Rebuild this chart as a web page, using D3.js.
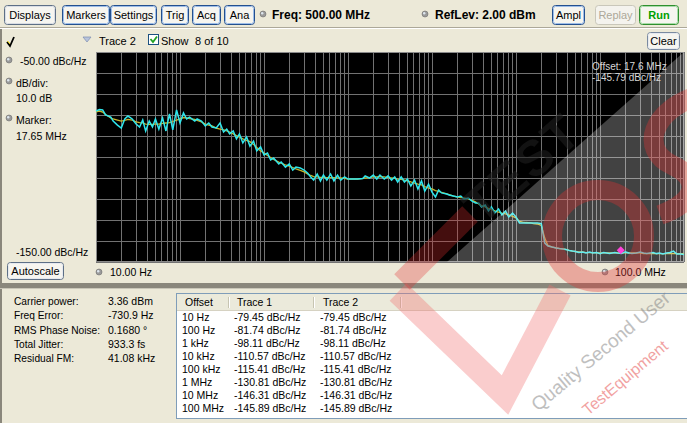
<!DOCTYPE html>
<html><head><meta charset="utf-8">
<script src="https://cdn.jsdelivr.net/npm/d3@7"></script>
<style>
body{margin:0;background:#ece9d8;overflow:hidden}
svg{display:block;font-family:"Liberation Sans",Arial,sans-serif}
</style></head><body>
<svg id="c" width="687" height="423"></svg>
<script>
// ---------- data ----------
const mantissas = [1.0,1.1,1.2,1.3,1.5,1.6,1.8,2.0,2.2,2.4,2.7,3.0,3.3,3.6,3.9,4.3,4.7,5.1,5.6,6.2,6.8,7.5,8.2,9.1];
const decades = [10,100,1e3,1e4,1e5,1e6,1e7];
const stopFreq = 1e8;
// Trace 1 (yellow, smoothed) dBc/Hz
const trace1 = [
-78.5,-78.1,-78.6,-79.8,-81.4,-81.9,-82.4,-82.9,-82.6,-82.1,-82.4,-83.3,-83.6,-83.8,-84.3,-84.5,-84.5,-84.3,-84.3,-84.0,-83.8,-83.6,-83.1,-82.4,
-81.8,-81.2,-81.4,-81.7,-82.1,-82.6,-83.3,-84.3,-84.8,-85.2,-86.2,-86.7,-87.1,-87.6,-88.1,-89.0,-89.8,-90.5,-91.4,-92.1,-92.7,-94.0,-95.5,-97.1,
-98.1,-99.3,-100.2,-101.2,-102.4,-102.9,-103.8,-104.3,-105.0,-105.7,-106.4,-107.1,-108.1,-108.8,-109.3,-109.5,-109.7,-109.7,-109.8,-109.8,-109.8,-109.9,-110.0,-110.2,
-110.5,-110.5,-110.5,-110.5,-110.2,-110.0,-109.8,-109.5,-109.5,-109.4,-109.5,-109.8,-110.0,-110.2,-110.5,-110.7,-111.0,-111.4,-111.9,-112.4,-112.9,-113.3,-114.1,-114.8,
-115.2,-116.0,-116.4,-116.9,-117.6,-117.9,-118.6,-119.0,-119.3,-119.5,-120.0,-120.7,-121.4,-122.4,-123.1,-123.8,-124.5,-125.0,-125.7,-126.2,-126.7,-127.1,-127.6,-128.3,
-129.0,-130.7,-131.0,-131.2,-131.4,-131.7,-131.9,-132.6,-138.6,-142.1,-142.9,-143.3,-143.6,-143.8,-144.0,-144.5,-144.8,-145.0,-145.2,-145.2,-145.5,-145.5,-145.5,-145.7,
-145.7,-145.7,-145.7,-145.7,-145.7,-145.7,-145.7,-145.7,-145.7,-145.7,-145.7,-145.7,-146.0,-146.0,-146.0,-146.0,-146.0,-146.0,-146.0,-146.0,-146.0,-146.0,-146.0,-146.0,
-146.0];
// Trace 2 (cyan, raw) dBc/Hz
const trace2 = [
-78.1,-77.4,-77.6,-80.0,-81.0,-82.9,-84.8,-86.2,-81.9,-80.5,-81.9,-84.3,-85.7,-82.4,-87.6,-82.9,-85.7,-81.9,-86.7,-81.4,-87.6,-79.5,-87.1,-77.6,
-83.8,-79.0,-81.9,-81.0,-82.9,-81.9,-82.9,-85.2,-83.8,-85.7,-86.2,-83.8,-88.1,-86.7,-89.0,-87.6,-91.4,-89.0,-93.3,-90.5,-94.8,-92.4,-97.1,-95.2,
-99.0,-98.1,-101.4,-100.5,-103.3,-102.4,-104.8,-103.3,-106.2,-104.8,-105.2,-106.2,-107.6,-109.5,-111.0,-108.1,-111.4,-108.6,-111.0,-108.1,-111.4,-108.6,-111.0,-109.5,
-110.5,-110.5,-110.5,-110.5,-110.2,-109.0,-110.0,-108.6,-110.5,-108.6,-110.5,-109.0,-111.0,-109.5,-111.9,-109.5,-111.9,-110.5,-113.8,-111.0,-115.2,-111.4,-116.2,-112.9,
-116.7,-119.0,-115.7,-117.1,-117.6,-118.1,-118.6,-119.0,-118.6,-120.0,-119.5,-121.0,-121.9,-121.9,-123.8,-122.9,-125.7,-123.8,-126.7,-124.8,-127.6,-125.7,-128.6,-126.7,
-128.6,-131.4,-131.4,-131.4,-131.4,-131.4,-131.4,-131.7,-141.0,-142.4,-142.9,-143.3,-143.6,-143.8,-144.0,-144.5,-144.8,-145.0,-145.5,-145.2,-145.7,-145.2,-145.7,-145.5,
-146.0,-145.5,-145.7,-146.0,-145.5,-145.7,-146.0,-145.2,-145.7,-146.0,-145.7,-145.2,-145.7,-146.0,-145.7,-145.5,-146.0,-145.7,-146.2,-145.7,-145.5,-144.8,-146.2,-146.2,
-146.4];
const refLevel = -50, bottomLevel = -150, dbPerDiv = 10;
const marker = {freq: 17.65e6, value: -145.79};
const statLabels = ["Carrier power:","Freq Error:","RMS Phase Noise:","Total Jitter:","Residual FM:"];
const statValues = ["3.36 dBm","-730.9 Hz","0.1680 \u00b0","933.3 fs","41.08 kHz"];
const tableHeaders = ["Offset","Trace 1","Trace 2"];
const offsetLabels = ["10 Hz","100 Hz","1 kHz","10 kHz","100 kHz","1 MHz","10 MHz","100 MHz"];
const trace1Table = [-79.45,-81.74,-98.11,-110.57,-115.41,-130.81,-146.31,-145.89];
const trace2Table = [-79.45,-81.74,-98.11,-110.57,-115.41,-130.81,-146.31,-145.89];

// ---------- build ----------
const freqs = [];
decades.forEach(d => mantissas.forEach(m => freqs.push(+(m*d).toPrecision(3))));
freqs.push(stopFreq);
const t1 = freqs.map((f,i)=>({f, v: trace1[i]}));
const t2 = freqs.map((f,i)=>({f, v: trace2[i]}));

const svg = d3.select("#c");
const FONT = "'Liberation Sans',Arial,sans-serif";
const FS = 10.5;

// ---------- frames ----------
svg.append("rect").attr("x",0).attr("y",0).attr("width",687).attr("height",423).attr("fill","#ece9d8");
svg.append("rect").attr("x",0).attr("y",27).attr("width",687).attr("height",1).attr("fill","#aca899");
svg.append("rect").attr("x",0).attr("y",28).attr("width",687).attr("height",1).attr("fill","#ffffff");
svg.append("rect").attr("x",0).attr("y",29).attr("width",2).attr("height",394).attr("fill","#8a877c");
svg.append("rect").attr("x",0).attr("y",283).attr("width",687).attr("height",5).attr("fill","#8a877c");
svg.append("rect").attr("x",0).attr("y",288).attr("width",687).attr("height",1).attr("fill","#c9c6b8");

function button(x,y,w,h,label,opt={}){
  const g = svg.append("g");
  g.append("rect").attr("x",x+0.5).attr("y",y+0.5).attr("width",w).attr("height",h).attr("rx",3)
    .attr("fill",opt.fill||"#f6f5f0").attr("stroke",opt.stroke||"#24508f");
  if(opt.inner!==false) g.append("rect").attr("x",x+1.5).attr("y",y+1.5).attr("width",w-2).attr("height",h-2).attr("rx",2)
    .attr("fill","none").attr("stroke",opt.inner||"#9dbde8");
  g.append("text").attr("x",x+w/2+0.5).attr("y",y+h/2+4.5).attr("text-anchor","middle")
    .attr("font-size",opt.size||11).attr("font-weight",opt.weight||"normal").attr("fill",opt.color||"#000")
    .attr("font-family",FONT).text(label);
}
// toolbar
button(4,5,51,19,"Displays",{stroke:"#5d6f86",inner:"#d9dde4"});
button(62,5,47,19,"Markers");
button(110,5,46,19,"Settings");
button(161,5,27,19,"Trig");
button(192,5,28,19,"Acq");
button(224,5,30,19,"Ana");
button(552,5,32,19,"Ampl");
button(595,5,40,19,"Replay",{stroke:"#c9c7ba",inner:false,color:"#aca899",fill:"#f4f3ee"});
button(639,5,39,19,"Run",{stroke:"#2f8f2f",inner:"#a8dca8",color:"#00a000",weight:"bold"});

function dot(cx,cy){
  const g = svg.append("g");
  g.append("circle").attr("cx",cx).attr("cy",cy).attr("r",3).attr("fill","#9a9a9a").attr("stroke","#6f6f6f").attr("stroke-width",0.6);
  g.append("circle").attr("cx",cx-0.8).attr("cy",cy-0.8).attr("r",1.2).attr("fill","#dde6ee");
}
dot(263,14); dot(425,14);
svg.append("text").attr("x",272).attr("y",18.5).attr("font-size",12).attr("font-weight","bold").attr("font-family",FONT).text("Freq: 500.00 MHz");
svg.append("text").attr("x",435).attr("y",18.5).attr("font-size",12).attr("font-weight","bold").attr("font-family",FONT).text("RefLev: 2.00 dBm");

// trace row
svg.append("path").attr("d","M7,42 L10,46 L14,37").attr("fill","none").attr("stroke","#000").attr("stroke-width",1.8);
svg.append("path").attr("d","M7.5,41 L10,44").attr("stroke","#e8d000").attr("stroke-width",1);
svg.append("path").attr("d","M83,37 L91,37 L87,42 Z").attr("fill","#b8c4dc").attr("stroke","#7d8cb0").attr("stroke-width",0.7);
const lbl = (x,y,t,fs)=>svg.append("text").attr("x",x).attr("y",y).attr("font-size",fs||FS).attr("font-family",FONT).text(t);
lbl(99,44.5,"Trace 2",11);
svg.append("rect").attr("x",148.5).attr("y",34.5).attr("width",10).attr("height",10).attr("fill","#fff").attr("stroke","#1c5180");
svg.append("path").attr("d","M150.5,39 L153,42 L157,36.5").attr("fill","none").attr("stroke","#21a121").attr("stroke-width",1.8);
lbl(161,44.5,"Show",11);
lbl(195,44.5,"8 of 10",11);
button(647,32,32,17,"Clear",{stroke:"#7a8aa0",inner:"#e6e9ee"});

// left labels
dot(9,60); dot(9,81); dot(9,118);
lbl(20,65,"-50.00 dBc/Hz");
lbl(16,87,"dB/div:");
lbl(16,101.5,"10.0 dB");
lbl(16,124,"Marker:");
lbl(16,139.5,"17.65 MHz");
lbl(16,256,"-150.00 dBc/Hz");
button(7,262,56,17,"Autoscale",{stroke:"#5d6f86",inner:"#e6e9ee"});
dot(99,272); lbl(110,276,"10.00 Hz");
dot(605,272); lbl(615,276,"100.0 MHz");

// ---------- plot ----------
const x = d3.scaleLog().domain([decades[0], stopFreq]).range([96,684]);
const y = d3.scaleLinear().domain([refLevel, bottomLevel]).range([52,262]);
const plot = svg.append("g");
plot.append("rect").attr("x",96).attr("y",52).attr("width",588).attr("height",210).attr("fill","#000");
const xGrid = x.ticks();
plot.selectAll(".vg").data(xGrid).join("line")
  .attr("x1",d=>Math.round(x(d))+0.5).attr("x2",d=>Math.round(x(d))+0.5)
  .attr("y1",52).attr("y2",262).attr("stroke","#727272").attr("stroke-width",1);
const yGrid = d3.range(refLevel, bottomLevel-1, -dbPerDiv);
plot.selectAll(".hg").data(yGrid).join("line")
  .attr("y1",d=>Math.round(y(d))+0.5).attr("y2",d=>Math.round(y(d))+0.5)
  .attr("x1",96).attr("x2",684).attr("stroke","#727272").attr("stroke-width",1);
plot.append("rect").attr("x",96.5).attr("y",52.5).attr("width",587).attr("height",209).attr("fill","none").attr("stroke","#8a8a8a");

const line = d3.line().x(d=>x(d.f)).y(d=>y(d.v));
plot.append("path").datum(t1).attr("d",line).attr("fill","none").attr("stroke","#c8b428").attr("stroke-width",1.3);
plot.append("path").datum(t2).attr("d",line).attr("fill","none").attr("stroke","#2fe6ec").attr("stroke-width",1.5);

// marker
const mx = x(marker.freq), my = y(marker.value)-3;
plot.append("path").attr("d",`M${mx},${my-4} L${mx+4},${my} L${mx},${my+4} L${mx-4},${my} Z`).attr("fill","#ff00d0");
const f2 = v => v.toFixed(2);

// ---------- bottom panel ----------
statLabels.forEach((t,i)=>{
  lbl(14,305+i*14.3,t,10.2);
  lbl(108,305+i*14.3,statValues[i]);
});
svg.append("rect").attr("x",176.5).attr("y",293.5).attr("width",520).attr("height",125).attr("fill","#fff").attr("stroke","#7f9db9");
svg.append("rect").attr("x",177).attr("y",294).attr("width",510).attr("height",16).attr("fill","#ebeadb");
svg.append("line").attr("x1",177).attr("x2",687).attr("y1",310.5).attr("y2",310.5).attr("stroke","#d6d2c2");
[228,313,400].forEach(sx=>{
  svg.append("line").attr("x1",sx+0.5).attr("x2",sx+0.5).attr("y1",297).attr("y2",308).attr("stroke","#c7c5b2");
  svg.append("line").attr("x1",sx+1.5).attr("x2",sx+1.5).attr("y1",297).attr("y2",308).attr("stroke","#fff");
});
const colX = [185,237,323];
tableHeaders.forEach((h,i)=>lbl(colX[i],306,h));
const fmt = v => f2(v)+" dBc/Hz";
offsetLabels.forEach((o,i)=>{
  const yy = 321 + i*13;
  lbl(182,yy,o);
  lbl(234,yy,fmt(trace1Table[i]));
  lbl(320,yy,fmt(trace2Table[i]));
});

// ---------- watermark (approximation of the overlaid logo) ----------
const wm = svg.append("g").attr("pointer-events","none");
wm.append("path").attr("d","M447,262 L684,52 L684,262 Z").attr("fill","#ffffff").attr("opacity",0.26);
wm.append("text").attr("transform","translate(482,226) rotate(-41)")
  .attr("font-size",50).attr("font-weight","bold").attr("font-family",FONT)
  .attr("fill","#1e1e1e").attr("opacity",0.6).attr("letter-spacing",2).text("TEST");
wm.append("circle").attr("cx",598).attr("cy",236).attr("r",46).attr("fill","none")
  .attr("stroke","#e23030").attr("stroke-width",20).attr("opacity",0.35);
wm.append("path").attr("d","M700,95 C650,110 640,150 672,165 C700,178 700,200 660,215")
  .attr("fill","none").attr("stroke","#e23030").attr("stroke-width",20).attr("opacity",0.35);
wm.append("path").attr("d","M398,292 L505,395 L560,290").attr("fill","none")
  .attr("stroke","#f07070").attr("stroke-width",24).attr("opacity",0.35);
wm.append("path").attr("d","M402,282 L470,214").attr("fill","none")
  .attr("stroke","#e23030").attr("stroke-width",22).attr("opacity",0.3);
wm.append("text").attr("transform","translate(538,412) rotate(-40)")
  .attr("font-size",19).attr("font-family",FONT).attr("fill","#8c8c8c").attr("opacity",0.55).text("Quality Second User");
wm.append("text").attr("transform","translate(588,416) rotate(-40)")
  .attr("font-size",16).attr("font-family",FONT).attr("fill","#e23030").attr("opacity",0.45).text("TestEquipment");

// marker readout on top
svg.append("text").attr("x",592).attr("y",70).attr("font-size",10).attr("fill","#d8d8d8").attr("font-family",FONT).text("Offset: 17.6 MHz");
svg.append("text").attr("x",592).attr("y",80.5).attr("font-size",10).attr("fill","#d8d8d8").attr("font-family",FONT).text(f2(marker.value)+" dBc/Hz");
</script></body></html>
